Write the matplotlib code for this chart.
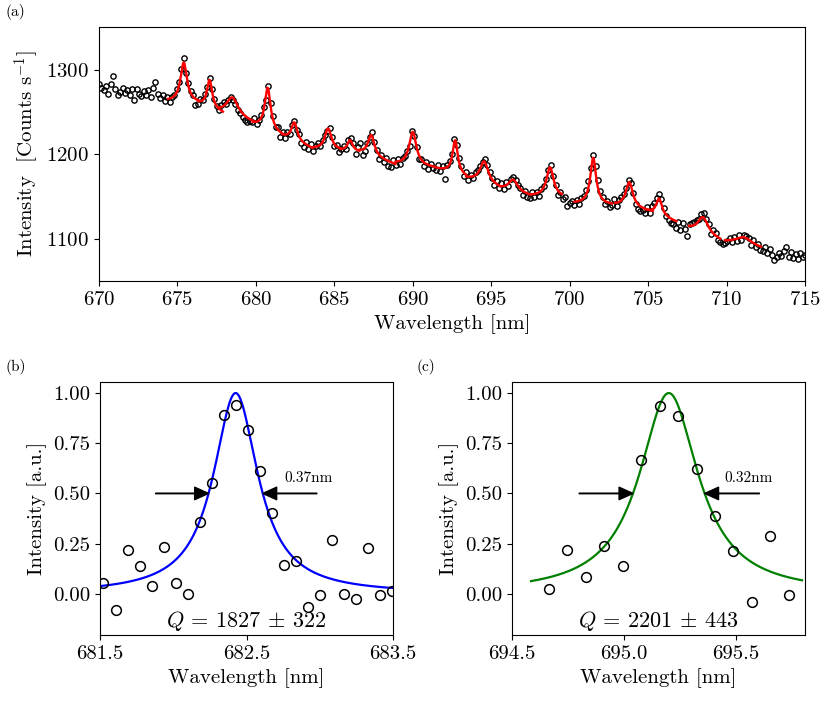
import numpy as np
import matplotlib
matplotlib.use("Agg")
import matplotlib.pyplot as plt

plt.rcParams['font.family'] = 'serif'
plt.rcParams['font.serif'] = ['cmr10', 'DejaVu Serif']
plt.rcParams['mathtext.fontset'] = 'cm'
plt.rcParams['axes.formatter.use_mathtext'] = True
plt.rcParams['axes.unicode_minus'] = False

# ---------------- panel (a) data ----------------
spec_start = 670.0
spec_step = 0.15
spec_counts = [
    1283, 1279, 1276, 1281, 1272, 1284, 1293, 1278, 1270, 1274,
    1279, 1273, 1276, 1270, 1277, 1265, 1278, 1272, 1269, 1275,
    1271, 1276, 1268, 1279, 1286, 1272, 1267, 1270, 1263, 1268,
    1262, 1268, 1271, 1277, 1286, 1301, 1314, 1297, 1285, 1275,
    1270, 1258, 1260, 1266, 1265, 1272, 1280, 1290, 1277, 1266,
    1257, 1253, 1258, 1262, 1260, 1265, 1268, 1264, 1260, 1253,
    1249, 1244, 1241, 1238, 1240, 1238, 1243, 1236, 1241, 1247,
    1256, 1265, 1281, 1261, 1245, 1232, 1233, 1221, 1227, 1219,
    1226, 1224, 1235, 1240, 1229, 1224, 1213, 1209, 1215, 1207,
    1212, 1204, 1210, 1213, 1210, 1217, 1223, 1228, 1231, 1221,
    1210, 1211, 1203, 1206, 1210, 1207, 1217, 1219, 1213, 1200,
    1209, 1214, 1199, 1204, 1213, 1221, 1226, 1215, 1205, 1195,
    1199, 1191, 1196, 1186, 1185, 1193, 1187, 1194, 1189, 1196,
    1198, 1204, 1210, 1228, 1222, 1209, 1195, 1195, 1186, 1191,
    1183, 1189, 1184, 1182, 1188, 1180, 1186, 1171, 1187, 1192,
    1200, 1218, 1211, 1196, 1186, 1174, 1179, 1170, 1176, 1172,
    1179, 1181, 1186, 1191, 1195, 1188, 1179, 1172, 1164, 1168,
    1160, 1166, 1159, 1167, 1162, 1171, 1173, 1170, 1164, 1160,
    1152, 1157, 1150, 1148, 1155, 1149, 1156, 1151, 1159, 1163,
    1171, 1182, 1187, 1175, 1164, 1152, 1156, 1147, 1150, 1139,
    1142, 1145, 1140, 1146, 1141, 1148, 1151, 1158, 1168, 1184,
    1199, 1186, 1170, 1157, 1149, 1141, 1145, 1138, 1140, 1147,
    1139, 1146, 1149, 1153, 1160, 1170, 1166, 1154, 1141, 1135,
    1133, 1134, 1131, 1138, 1131, 1139, 1142, 1148, 1153, 1147,
    1136, 1127, 1122, 1119, 1117, 1113, 1120, 1110, 1119, 1112,
    1103, 1117, 1119, 1120, 1122, 1124, 1129, 1131, 1123, 1117,
    1106, 1110, 1107, 1099, 1096, 1094, 1095, 1097, 1101, 1096,
    1102, 1097, 1104, 1099, 1105, 1103, 1101, 1093, 1098, 1090,
    1094, 1087, 1085, 1090, 1083, 1088, 1081, 1075, 1078, 1083,
    1080, 1086, 1090, 1079, 1084, 1077, 1082, 1076, 1083, 1079,
    1081,
]

# Lorentzian fit segments (start, end, centre, amplitude, FWHM, baseline at start, baseline at end)
fit_start = [674.4, 676.3, 677.6, 679.8, 681.7, 683.6, 685.4, 686.6, 688.9, 691.4,
             693.4, 695.6, 697.5, 700.3, 702.9, 704.8, 707.6, 709.9]
fit_end = [676.35, 677.9, 679.9, 681.7, 683.6, 685.4, 686.6, 688.9, 691.4, 693.4,
           695.6, 697.5, 699.5, 702.7, 705.3, 706.8, 709.6, 712.2]
fit_centre = [675.4, 677.05, 678.5, 680.75, 682.45, 684.6, 686.0, 687.35, 690.0, 692.7,
              694.55, 696.4, 698.75, 701.5, 703.8, 705.7, 708.5, 711.1]
fit_amp = [47, 33, 22, 50, 22, 25, 13, 25, 40, 40,
           26, 14, 35, 55, 30, 20, 20, 10]
fit_fwhm = [0.5, 0.4, 0.9, 0.45, 0.45, 0.5, 0.4, 0.5, 0.55, 0.4,
            0.65, 0.7, 0.55, 0.45, 0.55, 0.45, 0.8, 1.3]
fit_base0 = [1263, 1261, 1251, 1236, 1222, 1207, 1205, 1203, 1189, 1184,
             1172, 1160, 1151, 1142, 1140, 1134, 1112, 1096]
fit_base1 = [1261, 1249, 1237, 1222, 1207, 1205, 1203, 1188, 1184, 1173,
             1160, 1151, 1149, 1140, 1132, 1120, 1098, 1088]

# ---------------- panel (b) data ----------------
b_wl = [681.523, 681.607, 681.689, 681.771, 681.853, 681.935, 682.017, 682.099,
        682.180, 682.262, 682.344, 682.426, 682.508, 682.590, 682.672, 682.754,
        682.836, 682.918, 683.000, 683.081, 683.163, 683.245, 683.327, 683.409,
        683.491]
b_int = [0.056, -0.080, 0.216, 0.138, 0.041, 0.235, 0.056, -0.002,
         0.360, 0.551, 0.890, 0.942, 0.816, 0.610, 0.405, 0.146,
         0.166, -0.066, -0.005, 0.267, -0.003, -0.025, 0.226, -0.007,
         0.012]
b_centre, b_fwhm = 682.426, 0.37
b_arrow_tails = (681.88, 682.98)
b_text_x = 682.756
b_Q = "$Q$ = 1827 $\\pm$ 322"
b_label = "0.37nm"

# ---------------- panel (c) data ----------------
c_wl = [694.664, 694.747, 694.829, 694.912, 694.994, 695.077, 695.159, 695.241,
        695.324, 695.406, 695.488, 695.571, 695.653, 695.735]
c_int = [0.023, 0.220, 0.085, 0.237, 0.138, 0.665, 0.937, 0.887,
         0.622, 0.388, 0.212, -0.041, 0.290, -0.005]
c_centre, c_fwhm = 695.20, 0.32
c_arrow_tails = (694.80, 695.604)
c_text_x = 695.448
c_Q = "$Q$ = 2201 $\\pm$ 443"
c_label = "0.32nm"


def lorentz(x, c, g):
    return 1.0 / (1.0 + ((x - c) / (g / 2.0)) ** 2)


W, H = 830, 706
fig = plt.figure(figsize=(W / 100, H / 100), dpi=100)

def axrect(l, t, r, b):
    return [l / W, 1 - b / H, (r - l) / W, (b - t) / H]

# ---- (a)
ax = fig.add_axes(axrect(99, 27, 805, 281))
wl = spec_start + spec_step * np.arange(len(spec_counts))
ax.plot(wl, spec_counts, 'o', mfc='none', mec='black', ms=3.8, mew=1.0, zorder=2)
for s, e, c, a, g, b0, b1 in zip(fit_start, fit_end, fit_centre, fit_amp, fit_fwhm, fit_base0, fit_base1):
    xx = np.linspace(s, e, 200)
    base = b0 + (b1 - b0) * (xx - s) / (e - s)
    ax.plot(xx, base + a * lorentz(xx, c, g), color='red', lw=1.7, zorder=3)
ax.set_xlim(670, 715)
ax.set_ylim(1050, 1351)
ax.set_xticks([670, 675, 680, 685, 690, 695, 700, 705, 710, 715])
ax.set_yticks([1100, 1200, 1300])
ax.set_xlabel("Wavelength [nm]", fontsize=15)
ax.set_ylabel("Intensity  [Counts s$^{-1}$]", fontsize=15)
ax.tick_params(labelsize=15)
fig.text(5 / W, 1 - 12 / H, "(a)", fontsize=11, va='center', ha='left')

# ---- (b) and (c)
ax_b = fig.add_axes(axrect(100, 382, 393, 635))
ax_c = fig.add_axes(axrect(512, 382, 805, 635))

for ax, xs, ys, c, g, col, xlim, xticks, Q, lab, xr, tails, tx in [
        (ax_b, b_wl, b_int, b_centre, b_fwhm, 'blue', (681.5, 683.5), [681.5, 682.5, 683.5],
         b_Q, b_label, (681.5, 683.5), b_arrow_tails, b_text_x),
        (ax_c, c_wl, c_int, c_centre, c_fwhm, 'green', (694.5, 695.808), [694.5, 695.0, 695.5],
         c_Q, c_label, (694.585, 695.795), c_arrow_tails, c_text_x)]:
    ax.plot(xs, ys, 'o', mfc='none', mec='black', ms=7, mew=1.1, zorder=3)
    xx = np.linspace(xr[0], xr[1], 500)
    ax.plot(xx, lorentz(xx, c, g), color=col, lw=1.6, zorder=2)
    ax.set_xlim(*xlim)
    ax.set_ylim(-0.205, 1.055)
    ax.set_xticks(xticks)
    ax.set_xticklabels(["%.1f" % t for t in xticks])
    ax.set_yticks([0.0, 0.25, 0.5, 0.75, 1.0])
    ax.set_yticklabels(["0.00", "0.25", "0.50", "0.75", "1.00"])
    ax.tick_params(labelsize=15)
    ax.set_xlabel("Wavelength [nm]", fontsize=15)
    ax.set_ylabel("Intensity [a.u.]", fontsize=15)
    ax.text(0.5, 0.055, Q, transform=ax.transAxes, ha='center', va='center', fontsize=16)
    hw = g / 2
    ap = dict(facecolor='black', edgecolor='black', width=0.4, headwidth=9, headlength=10, shrink=0)
    ax.annotate('', xy=(c - hw, 0.5), xytext=(tails[0], 0.5), arrowprops=ap)
    ax.annotate('', xy=(c + hw, 0.5), xytext=(tails[1], 0.5), arrowprops=ap)
    ax.text(tx, 0.575, lab, fontsize=11, ha='left', va='center')

fig.text(5 / W, 1 - 367 / H, "(b)", fontsize=11, va='center', ha='left')
fig.text(417 / W, 1 - 367 / H, "(c)", fontsize=11, va='center', ha='left')

fig.savefig("out.png", dpi=100)
